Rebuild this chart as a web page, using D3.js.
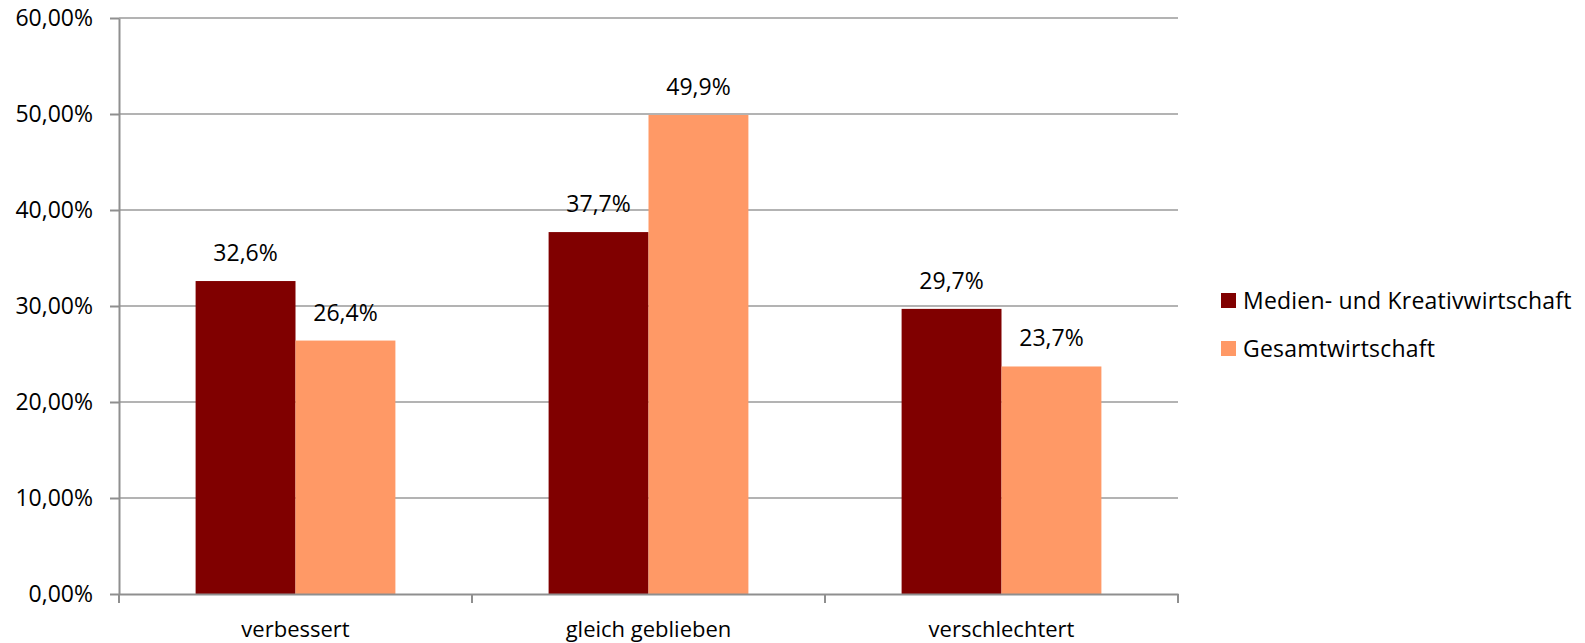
<!DOCTYPE html>
<html>
<head>
<meta charset="utf-8">
<script src="https://cdn.jsdelivr.net/npm/d3@7"></script>
<style>
  body { margin: 0; background: #fff; }
  text { font-family: "Open Sans", sans-serif; fill: #000; }
  .grid line { stroke: #9a9a9a; stroke-width: 1.5; }
  .axis path, .axis line { stroke: #8f8f8f; stroke-width: 2; }
</style>
</head>
<body>
<div class="chart"></div>
<script>
// data
var categories = ["verbessert", "gleich geblieben", "verschlechtert"];
var seriesNames = ["Medien- und Kreativwirtschaft", "Gesamtwirtschaft"];
var medien = [0.326, 0.377, 0.297];
var gesamt = [0.264, 0.499, 0.237];
var yTicks = [0, 0.1, 0.2, 0.3, 0.4, 0.5, 0.6];
var colors = ["#800000", "#ff9966"];

var de = d3.formatLocale({decimal: ",", thousands: ".", grouping: [3], currency: ["", " €"]});
var tickFmt = de.format(".2%"),
    labelFmt = de.format(".1%");

var margin = {top: 18, right: 407, bottom: 49, left: 119}
  , width = 1585 - margin.left - margin.right
  , height = 643 - margin.top - margin.bottom;

var x0 = d3.scaleBand()
    .domain(categories)
    .range([0, width])
    .paddingInner(0.434)
    .paddingOuter(0.217);

var x1 = d3.scaleBand()
    .domain(seriesNames)
    .range([0, x0.bandwidth()]);

var yScale = d3.scaleLinear()
    .domain([0, 0.6])
    .range([height, 0]);

var svg = d3.select(".chart").append("svg")
    .attr("width", 1585)
    .attr("height", 643)
  .append("g")
    .attr("transform", "translate(" + margin.left + "," + margin.top + ")");

// horizontal gridlines
svg.append("g")
    .attr("class", "grid")
  .selectAll("line")
  .data(yTicks.slice(1))
  .enter().append("line")
    .attr("x1", 0)
    .attr("x2", width)
    .attr("y1", d => yScale(d))
    .attr("y2", d => yScale(d));

// bars
var rows = categories.map((c, i) => ({cat: c, values: [medien[i], gesamt[i]]}));

var groups = svg.selectAll(".group")
    .data(rows)
  .enter().append("g")
    .attr("class", "group")
    .attr("transform", d => "translate(" + x0(d.cat) + ",0)");

groups.selectAll("rect")
    .data(d => d.values.map((v, j) => ({name: seriesNames[j], value: v, j: j})))
  .enter().append("rect")
    .attr("x", d => x1(d.name))
    .attr("y", d => yScale(d.value))
    .attr("width", x1.bandwidth())
    .attr("height", d => height - yScale(d.value))
    .attr("fill", d => colors[d.j]);

groups.selectAll(".lbl")
    .data(d => d.values.map((v, j) => ({name: seriesNames[j], value: v})))
  .enter().append("text")
    .attr("class", "lbl")
    .attr("x", d => x1(d.name) + x1.bandwidth() / 2)
    .attr("y", d => yScale(d.value) - 20)
    .attr("text-anchor", "middle")
    .style("font-size", "23px")
    .text(d => labelFmt(d.value));

// y axis
var yAxis = svg.append("g")
    .attr("class", "axis")
    .call(d3.axisLeft(yScale).tickValues(yTicks).tickFormat(tickFmt).tickSize(9).tickPadding(17).tickSizeOuter(0));
yAxis.selectAll("text").style("font-size", "23px");

// x axis with boundary ticks
var xAxis = svg.append("g")
    .attr("class", "axis")
    .attr("transform", "translate(0," + height + ")")
    .call(d3.axisBottom(x0).tickSize(0).tickSizeOuter(0));
xAxis.selectAll("text")
    .attr("y", 43)
    .attr("dy", 0)
    .style("font-size", "22px");
xAxis.selectAll(".bnd")
    .data(d3.range(categories.length + 1))
  .enter().append("line")
    .attr("class", "bnd")
    .attr("x1", i => i * x0.step())
    .attr("x2", i => i * x0.step())
    .attr("y1", 0)
    .attr("y2", 9);

// legend
var legend = svg.append("g")
    .attr("transform", "translate(" + (1221 - margin.left) + "," + (293 - margin.top) + ")");

var item = legend.selectAll("g")
    .data(seriesNames)
  .enter().append("g")
    .attr("transform", (d, i) => "translate(0," + i * 48 + ")");

item.append("rect")
    .attr("width", 15)
    .attr("height", 15)
    .attr("fill", (d, i) => colors[i]);

item.append("text")
    .attr("x", 22)
    .attr("y", 16)
    .style("font-size", "23px")
    .style("letter-spacing", "0.2px")
    .text(d => d);
</script>
</body>
</html>
